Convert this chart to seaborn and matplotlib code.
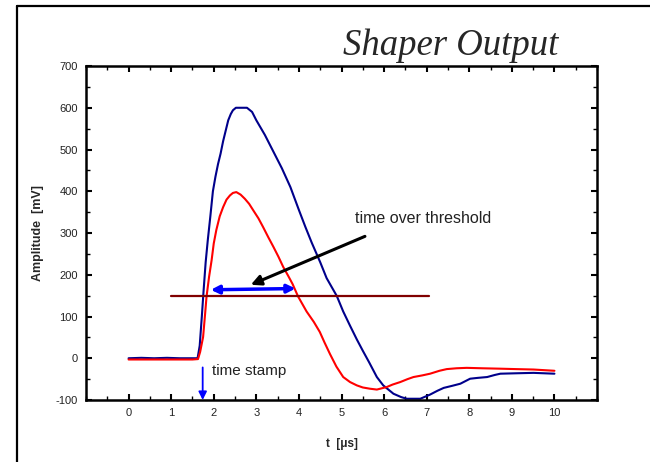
import matplotlib
matplotlib.use("Agg")
import matplotlib.pyplot as plt
from matplotlib.lines import Line2D
from matplotlib.ticker import MultipleLocator
import seaborn as sns
import pandas as pd

# ---- data ----
t_blue = [0, 0.3, 0.6, 0.9, 1.2, 1.5, 1.62, 1.67, 1.72, 1.76, 1.81, 1.86, 1.92, 1.98,
          2.04, 2.1, 2.16, 2.22, 2.28, 2.34, 2.4, 2.45, 2.52, 2.78, 2.9, 3.0, 3.2,
          3.4, 3.6, 3.8, 4.0, 4.15, 4.3, 4.5, 4.65, 4.89, 5.04, 5.2, 5.36, 5.5, 5.65,
          5.83, 5.98, 6.22, 6.4, 6.53, 6.85, 7.08, 7.25, 7.4, 7.6, 7.79, 8.02, 8.2,
          8.42, 8.6, 8.73, 9.1, 9.51, 10.0]
v_blue = [0, 1, 0, 1, 0, 0, 0, 30, 100, 160, 230, 283, 340, 400,
          435, 465, 490, 520, 545, 570, 585, 594, 600, 600, 590, 570, 535,
          495, 455, 410, 355, 315, 277, 230, 192, 149, 112, 78, 45, 18, -10,
          -45, -65, -85, -93, -97, -97, -87, -78, -71, -66, -61, -49, -47,
          -45, -40, -37, -36, -35, -37]

t_red = [0, 0.5, 1.0, 1.5, 1.63, 1.68, 1.75, 1.80, 1.83, 1.89, 1.95, 2.0, 2.06, 2.14,
         2.22, 2.3, 2.38, 2.45, 2.53, 2.63, 2.73, 2.83, 2.93, 3.05, 3.16, 3.28, 3.4,
         3.52, 3.63, 3.75, 3.85, 3.98, 4.18, 4.35, 4.49, 4.6, 4.73, 4.88, 5.04, 5.2,
         5.36, 5.5, 5.67, 5.83, 6.06, 6.2, 6.38, 6.55, 6.69, 6.9, 7.08, 7.3, 7.47,
         7.7, 7.94, 8.3, 8.73, 9.1, 9.51, 10.0]
v_red = [-3, -3, -3, -3, -2, 15, 51, 110, 147, 195, 235, 275, 307, 340,
         362, 380, 390, 396, 398, 392, 382, 370, 354, 335, 314, 290, 267,
         243, 219, 197, 178, 148, 112, 87, 63, 38, 10, -20, -45, -57,
         -65, -70, -73, -75, -69, -63, -57, -50, -45, -41, -37, -30, -26,
         -24, -23, -24, -25, -26, -27, -30]

threshold_t = [1.0, 7.05]
threshold_v = [148, 148]

x_ticks = list(range(0, 11))
y_ticks = list(range(-100, 701, 100))

title_text = "Shaper Output"
xlabel_text = "t  [\u03bcs]"
ylabel_text = "Amplitude  [mV]"

# ---- plotting ----
sns.set_theme(style="white")
plt.rcParams['font.family'] = ['Liberation Sans', 'DejaVu Sans']
plt.rcParams['axes.unicode_minus'] = False

fig = plt.figure(figsize=(6.5, 4.62), dpi=100)
ax = fig.add_axes([0.1323, 0.1342, 0.7862, 0.7229])

df_b = pd.DataFrame({"t": t_blue, "v": v_blue})
df_r = pd.DataFrame({"t": t_red, "v": v_red})
sns.lineplot(data=df_b, x="t", y="v", ax=ax, color="#00008B", lw=1.5, sort=False)
sns.lineplot(data=df_r, x="t", y="v", ax=ax, color="#FF0000", lw=1.5, sort=False)
sns.lineplot(x=threshold_t, y=threshold_v, ax=ax, color="#800000", lw=1.6)

ax.set_xlim(-1, 11)
ax.set_ylim(-100, 700)
ax.set_xticks(x_ticks)
ax.set_yticks(y_ticks)
ax.xaxis.set_minor_locator(MultipleLocator(0.5))
ax.yaxis.set_minor_locator(MultipleLocator(50))
ax.tick_params(which='both', direction='in', top=True, right=True,
               bottom=True, left=True, color='black')
ax.tick_params(which='major', length=4, width=1.5, labelsize=8, pad=6,
               labelcolor='#222222')
ax.tick_params(which='minor', length=3, width=1)
for s in ax.spines.values():
    s.set_color('black')
    s.set_linewidth(1.8)

ax.set_xlabel(xlabel_text, fontsize=8.5, fontweight='bold', labelpad=14)
ax.set_ylabel(ylabel_text, fontsize=9, fontweight='bold', labelpad=8)

# annotations
ax.annotate("", xy=(1.93, 164), xytext=(3.92, 167),
            arrowprops=dict(arrowstyle="<|-|>", color="#0000FF", lw=2.5,
                            mutation_scale=12, shrinkA=0, shrinkB=0))
ax.annotate("", xy=(2.87, 176), xytext=(5.55, 292),
            arrowprops=dict(arrowstyle="-|>", color="black", lw=2.2,
                            mutation_scale=15, shrinkA=0, shrinkB=0))
ax.text(5.32, 335, "time over threshold", fontsize=11.5, va='center', ha='left',
        color='#222222')
ax.annotate("", xy=(1.74, -100), xytext=(1.74, -22),
            arrowprops=dict(arrowstyle="-|>", color="#0000FF", lw=1.3,
                            mutation_scale=12, shrinkA=0, shrinkB=0))
ax.text(1.95, -30, "time stamp", fontsize=11, va='center', ha='left',
        color='#222222')

fig.text(558 / 650, 1 - 55 / 462, title_text, ha='right', va='baseline',
         fontsize=26.5, family='Liberation Serif', style='italic')

# figure frame (left and top)
fig.add_artist(Line2D([17 / 650, 17 / 650], [0, 1 - 6 / 462], color='black',
                      lw=1.6, transform=fig.transFigure))
fig.add_artist(Line2D([17 / 650, 1], [1 - 6 / 462, 1 - 6 / 462], color='black',
                      lw=1.6, transform=fig.transFigure))

fig.savefig("out.png", dpi=100, facecolor='white')
